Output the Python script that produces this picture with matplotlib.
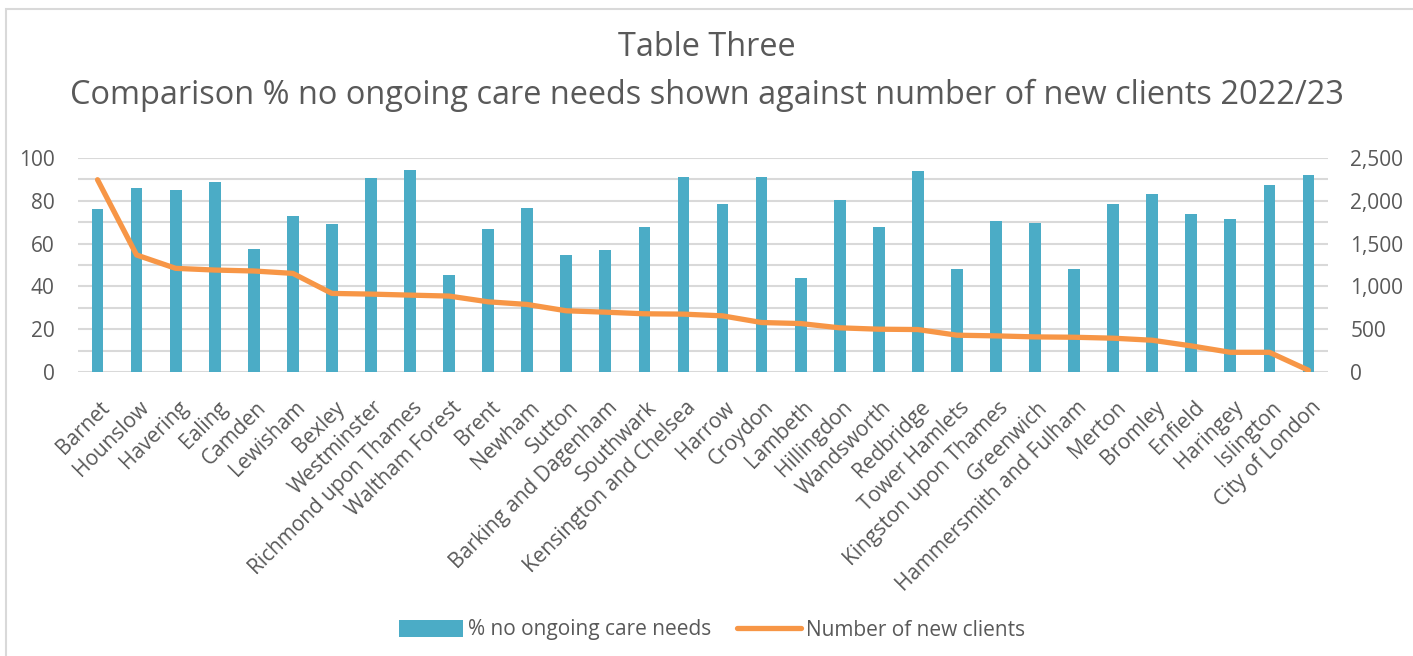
import numpy as np
import matplotlib
matplotlib.use("Agg")
import matplotlib.pyplot as plt
import matplotlib.transforms as mtransforms
from matplotlib.patches import Rectangle

plt.rcParams["font.family"] = ["Open Sans", "DejaVu Sans"]

boroughs = [
    "Barnet", "Hounslow", "Havering", "Ealing", "Camden", "Lewisham", "Bexley",
    "Westminster", "Richmond upon Thames", "Waltham Forest", "Brent", "Newham",
    "Sutton", "Barking and Dagenham", "Southwark", "Kensington and Chelsea",
    "Harrow", "Croydon", "Lambeth", "Hillingdon", "Wandsworth", "Redbridge",
    "Tower Hamlets", "Kingston upon Thames", "Greenwich", "Hammersmith and Fulham",
    "Merton", "Bromley", "Enfield", "Haringey", "Islington", "City of London",
]

# % of new clients with no ongoing care needs (left axis)
pct_no_care = [
    76.2, 86.1, 85.2, 88.9, 57.5, 73.0, 69.2, 90.8, 94.5, 45.3,
    66.9, 76.7, 54.7, 57.0, 67.8, 91.3, 78.6, 91.3, 43.9, 80.5,
    67.8, 94.1, 48.1, 70.6, 69.7, 48.1, 78.6, 83.3, 73.9, 71.6,
    87.5, 92.2,
]
# number of new clients (right axis)
new_clients = [
    2246, 1367, 1211, 1191, 1180, 1152, 918, 910, 898, 887,
    820, 789, 715, 699, 680, 676, 656, 578, 566, 516,
    500, 496, 430, 422, 410, 406, 395, 371, 305, 230,
    230, 20,
]

BAR = "#4BACC6"
LINE = "#F79646"
TXT = "#595959"
GRID = "#D9D9D9"

n = len(boroughs)
x = np.arange(n)

fig = plt.figure(figsize=(14.13, 6.56), dpi=100)
# chart frame (runs off the right and bottom edges)
fig.patches.append(Rectangle((6 / 1413, -0.05), 1.1, 1 - 9 / 656 + 0.05,
                             transform=fig.transFigure, fill=False,
                             edgecolor=GRID, linewidth=1.5))

ax = fig.add_axes([78 / 1413, 1 - 372 / 656, 1250 / 1413, 214 / 656])
ax2 = ax.twinx()

bars = ax.bar(x, pct_no_care, width=0.3, color=BAR, zorder=2)
line, = ax2.plot(x, new_clients, color=LINE, linewidth=3.8, zorder=3,
                 solid_capstyle="round")

ax.set_xlim(-0.5, n - 0.5)
ax.set_ylim(0, 100)
ax2.set_ylim(0, 2500)
ax.set_yticks(np.arange(0, 101, 20))
ax.set_yticks(np.arange(0, 101, 10), minor=True)
ax2.set_yticks(np.arange(0, 2501, 500))
ax2.set_yticklabels([f"{v:,}" for v in range(0, 2501, 500)])

ax.grid(axis="y", which="both", color=GRID, linewidth=1.5, zorder=0)
ax.set_axisbelow(True)
for a in (ax, ax2):
    for s in a.spines.values():
        s.set_visible(False)
    a.tick_params(axis="both", which="both", length=0, labelsize=15,
                  labelcolor=TXT)
ax.tick_params(axis="y", pad=17)
ax2.tick_params(axis="y", pad=16)

ax.set_xticks(x)
ax.set_xticklabels(boroughs, rotation=45, ha="right", rotation_mode="anchor",
                   fontsize=15, color=TXT)
ax.tick_params(axis="x", pad=0)
shift = mtransforms.ScaledTranslation(2 / 100, -25 / 100, fig.dpi_scale_trans)
for lab in ax.get_xticklabels():
    lab.set_transform(lab.get_transform() + shift)

fig.text(0.5, 1 - 47 / 656, "Table Three", ha="center", va="center",
         fontsize=23.4, color=TXT)
fig.text(0.5, 1 - 95 / 656,
         "Comparison % no ongoing care needs shown against number of new clients 2022/23",
         ha="center", va="center", fontsize=23.4, color=TXT)

fig.legend([bars, line], ["% no ongoing care needs", "Number of new clients"],
           loc="center", bbox_to_anchor=(712 / 1413, 1 - 630 / 656), ncol=2,
           frameon=False, fontsize=15, labelcolor=TXT, handlelength=3.1,
           handleheight=0.85, handletextpad=0.25, columnspacing=1.2)

fig.savefig("out.png", dpi=100)
